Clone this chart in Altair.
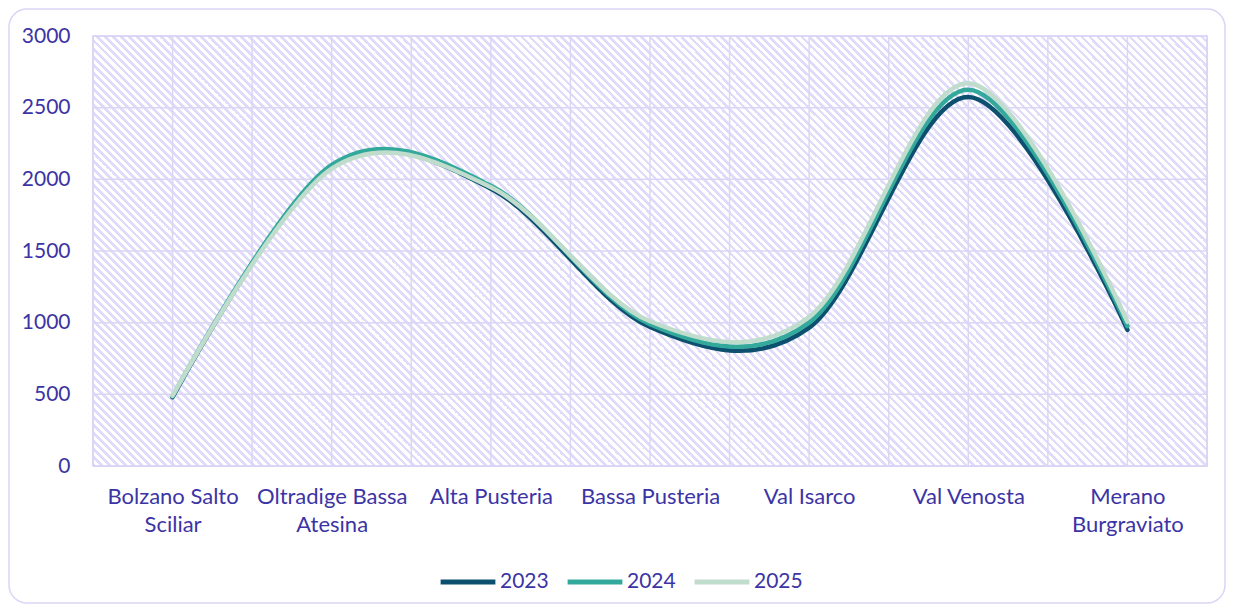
import json
import altair as alt
import pandas as pd

# ---------------- data ----------------
categories = ["Bolzano Salto Sciliar", "Oltradige Bassa Atesina", "Alta Pusteria",
              "Bassa Pusteria", "Val Isarco", "Val Venosta", "Merano Burgraviato"]
label_lines = [["Bolzano Salto", "Sciliar"], ["Oltradige Bassa", "Atesina"], ["Alta Pusteria"],
               ["Bassa Pusteria"], ["Val Isarco"], ["Val Venosta"], ["Merano", "Burgraviato"]]
years = ["2023", "2024", "2025"]
v2023 = [480, 2090, 1935, 970, 965, 2575, 950]
v2024 = [485, 2100, 1955, 990, 1000, 2625, 975]
v2025 = [490, 2075, 1945, 1010, 1040, 2670, 1005]
colors = ["#0c4f6e", "#33a99b", "#bfdccc"]
y_ticks = [0, 500, 1000, 1500, 2000, 2500, 3000]
x_grid = [i / 2 for i in range(-1, 14)]

rows = []
for yr, vals in zip(years, [v2023, v2024, v2025]):
    for i, (c, v) in enumerate(zip(categories, vals)):
        rows.append({"idx": i, "area": c, "year": yr, "value": v})
df = pd.DataFrame(rows)

# ---------------- layout ----------------
W, H = 1114, 430
PAD = {"left": 85, "top": 28, "right": 19, "bottom": 138}
INK = "#3c34a5"
GRID = "#dad6f6"
FONT = "Lato"

# diagonal hatch built as a striped linear gradient (8 px horizontal period)
stripe = "#dfdbf9"
N = (W + H) // 8
stops = []
for k in range(N):
    a = k / N
    b = (k + 0.38) / N
    c = (k + 1) / N
    stops += [alt.GradientStop(offset=a, color=stripe), alt.GradientStop(offset=b, color=stripe),
              alt.GradientStop(offset=b, color="#ffffff"), alt.GradientStop(offset=c, color="#ffffff")]
kr = H / W
a_ = (1 + kr) / (1 + kr ** 2)
b_ = -kr * a_
hatch_grad = alt.LinearGradient(gradient="linear", stops=stops,
                                x1=0, y1=1, x2=a_, y2=1 + b_)

one = pd.DataFrame({"k": [0]})

xscale = alt.Scale(domain=[-0.5, 6.5], nice=False, zero=False)
yscale = alt.Scale(domain=[0, 3000], nice=False)
label_expr = json.dumps(label_lines) + "[datum.value]"

x_axis = alt.Axis(values=list(range(len(categories))), labelExpr=label_expr, title=None,
                  grid=False, domain=False, ticks=False, labelPadding=20,
                  labelLineHeight=28, labelFontSize=22, labelColor=INK,
                  labelFont=FONT, labelOverlap=False, labelFlush=False)
y_axis = alt.Axis(values=y_ticks, format="d", title=None, grid=False, domain=False, ticks=False,
                  labelPadding=23, labelFontSize=21, labelColor=INK, labelFont=FONT)

frame = alt.Chart(one).mark_rect(
    fillOpacity=0, stroke="#d9d5f5", strokeWidth=1.5, cornerRadius=18
).encode(x=alt.value(-84), x2=alt.value(1132), y=alt.value(-27), y2=alt.value(567))

hatch = alt.Chart(one).mark_rect(
    color=hatch_grad, stroke="#d6d1f4", strokeWidth=1.5
).encode(x=alt.value(0), x2=alt.value(W), y=alt.value(0), y2=alt.value(H))

vgrid = alt.Chart(pd.DataFrame({"idx": x_grid})).mark_rule(
    color=GRID, strokeWidth=1.5
).encode(x=alt.X("idx:Q", scale=xscale, axis=x_axis))

hgrid = alt.Chart(pd.DataFrame({"value": y_ticks})).mark_rule(
    color=GRID, strokeWidth=1.5
).encode(y=alt.Y("value:Q", scale=yscale, axis=y_axis))

lines = alt.Chart(df).mark_line(
    interpolate="cardinal", tension=0, strokeWidth=4.5, strokeCap="round", strokeJoin="round"
).encode(
    x=alt.X("idx:Q", scale=xscale, axis=x_axis),
    y=alt.Y("value:Q", scale=yscale, axis=y_axis),
    color=alt.Color("year:N", scale=alt.Scale(domain=years, range=colors),
                    legend=alt.Legend(title=None, orient="none", direction="horizontal",
                                      legendX=345, legendY=516, symbolType="stroke",
                                      symbolSize=3000, symbolStrokeWidth=5,
                                      labelFontSize=21, labelColor=INK, labelFont=FONT,
                                      labelOffset=2, columnPadding=8, padding=0)),
)

chart = alt.layer(frame, hatch, vgrid, hgrid, lines).properties(
    width=W, height=H, padding=PAD, autosize="none", background="white"
).configure_view(stroke=None).configure(font=FONT)

chart.save("out.html", embed_options={"renderer": "svg", "actions": False})
